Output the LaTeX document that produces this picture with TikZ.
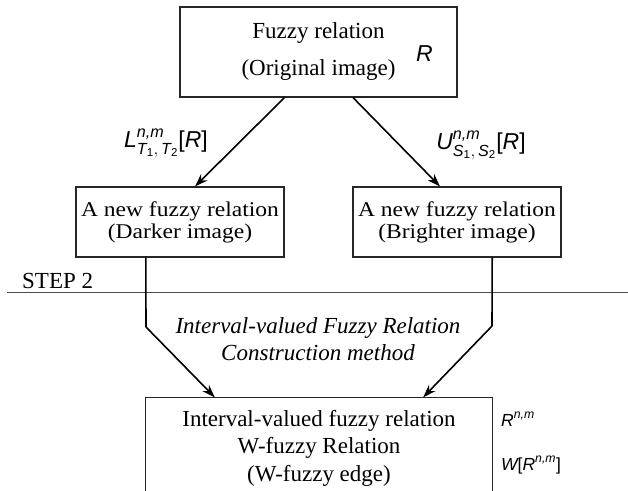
\documentclass[tikz,border=0pt]{standalone}
\usepackage{amsmath}
\usepackage{fontspec}
\setmainfont{Liberation Serif}
\newfontfamily\lsans{Liberation Sans}
\newfontfamily\mserif[FakeStretch=1.12]{Liberation Serif}
\usetikzlibrary{arrows.meta}
\begin{document}
\begin{tikzpicture}[x=1pt,y=-1pt,
  box/.style={draw=black!85,line width=1.1pt,inner sep=0pt,align=center},
  bigtxt/.style={font=\fontsize{23}{37}\selectfont},
  midtxt/.style={font=\mserif\fontsize{21}{22}\selectfont},
  bottxt/.style={font=\fontsize{23}{27.5}\selectfont},
  lab/.style={font=\lsans\itshape\fontsize{23}{27}\selectfont,inner sep=0pt},
  smlab/.style={font=\lsans\itshape\fontsize{17.5}{20}\selectfont,inner sep=0pt,anchor=west},
  arr/.style={line width=1.6pt,-{Stealth[length=13pt,width=9pt]}},
  seg/.style={line width=1.6pt}]
\useasboundingbox (0,0) rectangle (628,490);
% top box
\node[box,bigtxt,minimum width=277pt,minimum height=90pt] (top) at (318.5,52) {Fuzzy relation\\(Original image)};
\node[lab] (rlab) at (424.5,54) {R};
% middle boxes
\node[box,midtxt,minimum width=208pt,minimum height=70pt] (left) at (180,222) {A new fuzzy relation\\(Darker image)};
\node[box,midtxt,minimum width=208pt,minimum height=70pt] (right) at (457,222) {A new fuzzy relation\\(Brighter image)};
% labels of arrows
\node[lab] (lL) at (166,143) {$\text{L}^{\text{n,m}}_{\text{T}_{\text{\upshape 1}},\,\text{T}_{\text{\upshape 2}}}\text{\upshape[}\text{R}\text{\upshape]}$};
\node[lab] (lU) at (481,145) {$\text{U}^{\text{n,m}}_{\text{S}_{\text{\upshape 1}},\,\text{S}_{\text{\upshape 2}}}\text{\upshape[}\text{R}\text{\upshape]}$};
\draw[arr] ([xshift=-34pt]top.south) -- ([xshift=15pt]left.north);
\draw[arr] ([xshift=34.5pt]top.south) -- ([xshift=-17pt]right.north);
% step 2
\node[font=\fontsize{23}{27}\selectfont,inner sep=0pt,anchor=base west] (step) at (22,288) {STEP 2};
\coordinate (hl) at (7,292);
\coordinate (hr) at (628,292);
\draw[black!70,line width=0.9pt] (hl) -- (hr);
% bottom box
\node[inner sep=0pt,bottxt,align=center,minimum width=346pt,minimum height=101pt] (bot) at (319,448) {Interval-valued fuzzy relation\\W-fuzzy Relation\\(W-fuzzy edge)};
\draw[black!85,line width=1.1pt] (bot.south west) -- (bot.north west) -- (bot.north east) -- (bot.south east);
\node[font=\itshape\fontsize{23}{27}\selectfont,align=center,inner sep=0pt] (method) at (318,339.5) {Interval-valued Fuzzy Relation\\Construction method};
\node[smlab] (rnm) at (501,419) {$\text{R}^{\text{n,m}}$};
\node[smlab] (wr) at (501,465) {$\text{W\upshape[}\text{R}^{\text{n,m}}\text{\upshape]}$};
% connectors to bottom box
\coordinate (lbend) at (146,327);
\coordinate (rbend) at (492,326);
\draw[seg] (left.south -| bot.west) -- (lbend);
\draw[arr] (lbend) -- ([xshift=69pt]bot.north west);
\draw[seg] (right.south -| bot.east) -- (rbend);
\draw[arr] (rbend) -- ([xshift=-69pt]bot.north east);
\end{tikzpicture}
\end{document}
